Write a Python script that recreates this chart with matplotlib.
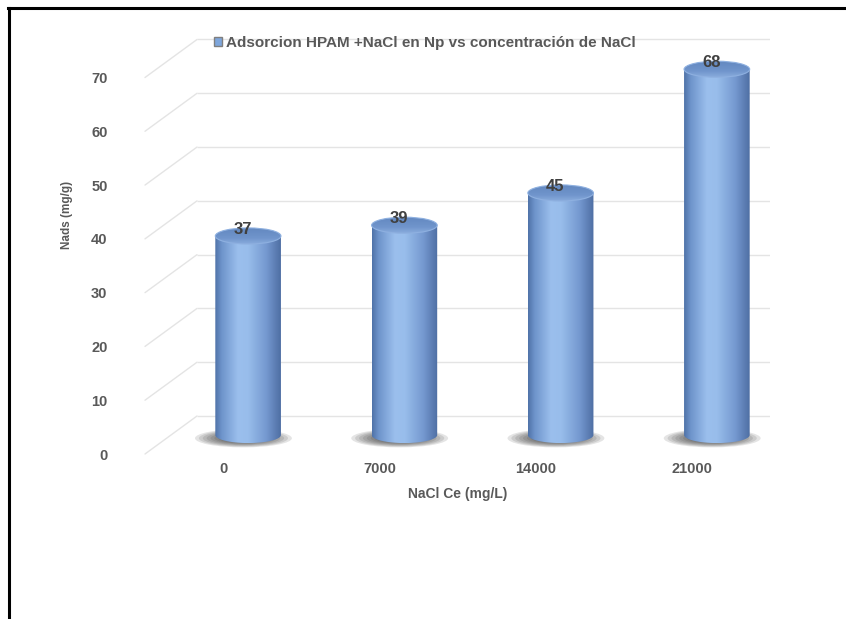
import numpy as np
import matplotlib
matplotlib.use("Agg")
import matplotlib.pyplot as plt
import matplotlib.transforms as mtransforms
from matplotlib.colors import LinearSegmentedColormap
from matplotlib.patches import Ellipse, Polygon, Patch, ConnectionPatch
from matplotlib.lines import Line2D

plt.rcParams["font.family"] = ["Liberation Sans", "DejaVu Sans"]
plt.rcParams["font.weight"] = "bold"

# datos: adsorcion de HPAM frente a la concentracion de NaCl
categorias = ["0", "7000", "14000", "21000"]
valores = [37, 39, 45, 68]
ticks_y = [0, 10, 20, 30, 40, 50, 60, 70]
serie = "Adsorcion HPAM +NaCl en Np vs concentración de NaCl"
titulo_x = "NaCl Ce (mg/L)"
titulo_y = "Nads (mg/g)"

gris = "#595959"
y_max = 80   # margen arriba para la tapa de la barra mas alta

fig = plt.figure(figsize=(8.46, 6.19), dpi=100)
ax = fig.add_axes([145 / 846, 165 / 619, 625 / 846, 376.5 / 70 * y_max / 619])
ax.set_xlim(-0.5, 3.5)
ax.set_ylim(0, y_max)

# planos de profundidad (pared del fondo y plano medio de las barras)
fondo = mtransforms.offset_copy(ax.transData, fig=fig, x=52, y=38, units="dots")
medio = mtransforms.offset_copy(ax.transData, fig=fig, x=25, y=19, units="dots")

# lineas de la pared del fondo y de la pared lateral
ax.hlines(ticks_y, -0.5, 3.5, transform=fondo, color="#e4e4e4", lw=1.0, zorder=0)
for v in ticks_y:
    con = ConnectionPatch(xyA=(-0.5, v), coordsA=ax.transData,
                          xyB=(-0.5, v), coordsB=fondo,
                          arrowstyle="-", color="#e4e4e4", lw=1.0, zorder=0)
    ax.add_artist(con)

cmap_cuerpo = LinearSegmentedColormap.from_list("cuerpo", [
    (0.0, "#4f72a8"), (0.10, "#6e94cb"), (0.35, "#9bbfed"),
    (0.50, "#98bdeb"), (0.78, "#7599d0"), (1.0, "#4e6ea3")])
cmap_tapa = LinearSegmentedColormap.from_list("tapa", [
    (0.0, "#88abdc"), (0.35, "#7095cc"), (1.0, "#6287bf")])

w = 0.21   # medio ancho del cilindro
e = 1.5    # semieje vertical de la elipse
grad = np.linspace(0, 1, 256).reshape(1, -1)
grad_v = np.linspace(0, 1, 64).reshape(-1, 1)

for i, v in enumerate(valores):
    # sombra
    for k in range(9):
        s = 1 - k * 0.08
        ax.add_patch(Ellipse((i - 0.03, -0.6), 0.62 * s, 3.4 * s, transform=medio,
                             facecolor="#262626", edgecolor="none", alpha=0.12,
                             zorder=1, clip_on=False))
    # cuerpo
    t = np.linspace(np.pi, 2 * np.pi, 60)
    xs = list(i + w * np.cos(t)) + [i + w, i - w]
    ys = list(e * np.sin(t)) + [v, v]
    borde = Polygon(np.column_stack([xs, ys]), closed=True, transform=medio,
                    facecolor="none", edgecolor="none")
    ax.add_patch(borde)
    img = ax.imshow(grad, cmap=cmap_cuerpo, aspect="auto", transform=medio,
                    extent=[i - w, i + w, -e, v], zorder=2, interpolation="bilinear")
    img.set_clip_path(borde)
    # tapa superior
    tapa = Ellipse((i, v), 2 * w, 2 * e, transform=medio, facecolor="none",
                   edgecolor="#8eb0e0", lw=0.8, zorder=4)
    ax.add_patch(tapa)
    img_t = ax.imshow(grad_v, cmap=cmap_tapa, aspect="auto", transform=medio,
                      extent=[i - w, i + w, v - e, v + e], zorder=3,
                      interpolation="bilinear", origin="lower")
    img_t.set_clip_path(tapa)
    # etiqueta de valor
    ax.annotate(str(v), (i, v), xycoords=medio, xytext=(-4, 5),
                textcoords="offset points", ha="center", va="center",
                fontsize=12, color="#404040", fontweight="bold", zorder=5,
                annotation_clip=False)

ax.set_xlim(-0.5, 3.5)
ax.set_ylim(0, y_max)

ax.set_xticks(range(len(categorias)))
ax.set_xticklabels(categorias)
ax.set_yticks(ticks_y)
ax.tick_params(length=0, labelsize=10.5, labelcolor=gris)
ax.tick_params(axis="y", pad=27)
ax.tick_params(axis="x", pad=6)
for s in ax.spines.values():
    s.set_visible(False)
ax.patch.set_visible(False)

ax.set_xlabel(titulo_x, fontsize=10, color=gris, fontweight="bold", labelpad=8)
ax.set_ylabel(titulo_y, fontsize=8.5, color=gris, fontweight="bold")
ax.yaxis.set_label_coords(-0.115, (454 - 215) / (376.5 / 70 * y_max))

fig.legend(handles=[Patch(facecolor="#7ea6dc", edgecolor="#7f7f7f", label=serie)],
           loc="upper left", bbox_to_anchor=(214 / 846, 1 - 36 / 619),
           frameon=False, handlelength=0.55, handleheight=0.55,
           handletextpad=0.25, borderpad=0, borderaxespad=0,
           prop={"size": 11, "weight": "bold"}, labelcolor=gris)

# marco
fig.add_artist(Line2D([9 / 846, 9 / 846], [0, 1 - 8 / 619],
                      transform=fig.transFigure, color="black", lw=2.2))
fig.add_artist(Line2D([8 / 846, 1], [1 - 8 / 619, 1 - 8 / 619],
                      transform=fig.transFigure, color="black", lw=2.2))

fig.savefig("out.png", dpi=100)
